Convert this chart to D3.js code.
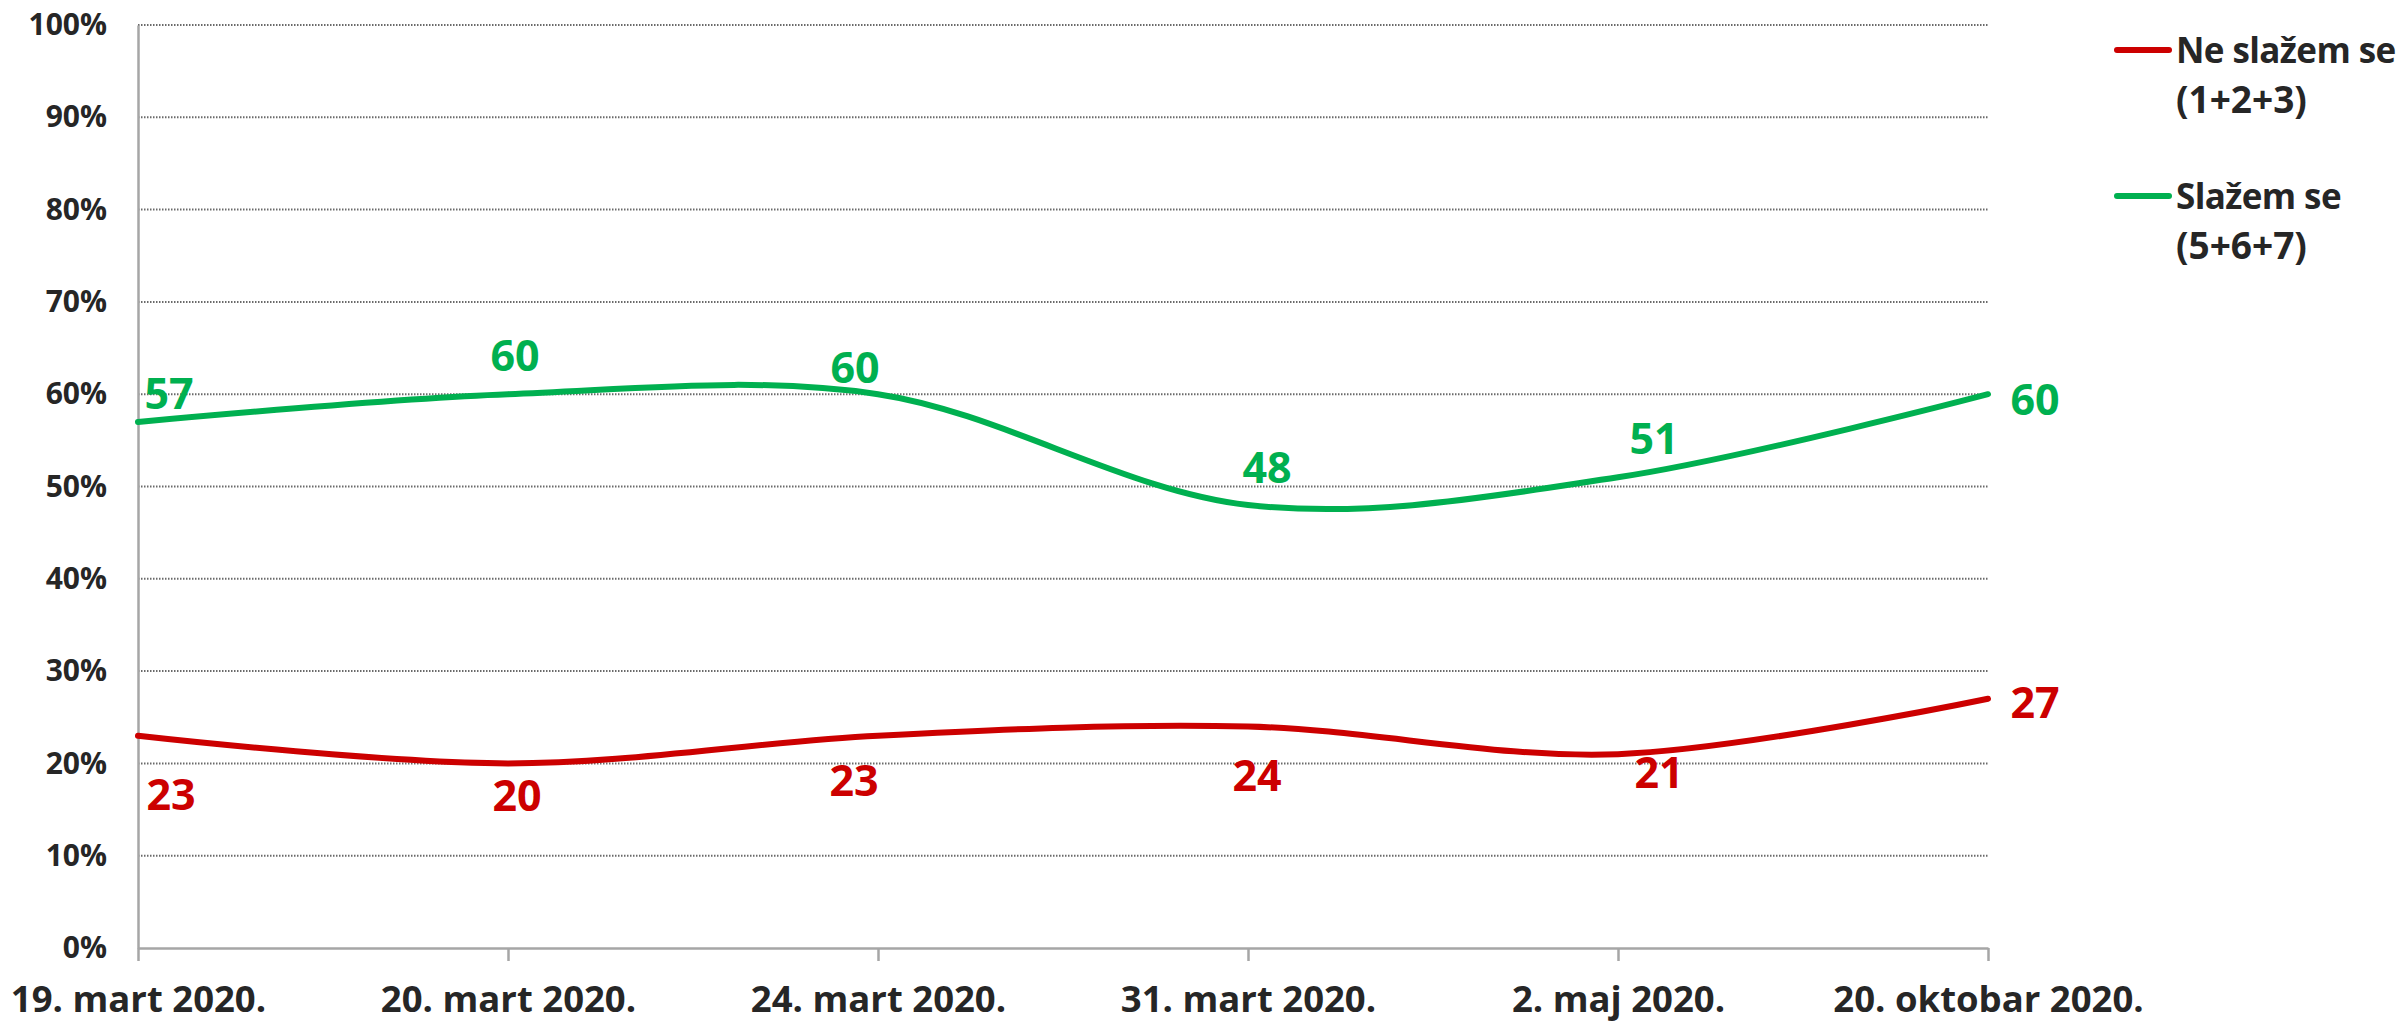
<!DOCTYPE html>
<html>
<head>
<meta charset="utf-8">
<script src="https://cdn.jsdelivr.net/npm/d3@7"></script>
<style>
  html, body { margin: 0; padding: 0; background: #fff; }
  svg { display: block; }
  text { font-family: "Open Sans", "Noto Sans", sans-serif; font-weight: 700; }
</style>
</head>
<body>
<svg id="chart" width="2405" height="1025"></svg>
<script>
// ---- data ----
const categories = ["19. mart 2020.", "20. mart 2020.", "24. mart 2020.", "31. mart 2020.", "2. maj 2020.", "20. oktobar 2020."];
const disagreeValues = [23, 20, 23, 24, 21, 27];   // Ne slažem se (1+2+3)
const agreeValues = [57, 60, 60, 48, 51, 60];      // Slažem se (5+6+7)
const yTicks = [0, 10, 20, 30, 40, 50, 60, 70, 80, 90, 100];
const seriesNames = [["Ne slažem se", "(1+2+3)"], ["Slažem se", "(5+6+7)"]];

// ---- layout (label offsets relative to the point, in px) ----
const disagreeLabelOffsets = [[33, 58], [9, 31], [-24, 44], [9, 48], [41, 17], [47, 3]];
const agreeLabelOffsets = [[31, -29], [7, -40], [-23, -28], [19, -38], [36, -40], [47, 4]];

const colors = { disagree: "#CC0000", agree: "#00B050" };
const svg = d3.select("#chart");

const x = d3.scalePoint().domain(categories).range([138, 1988]);
const y = d3.scaleLinear().domain([0, 100]).range([948, 25]);

// gridlines
svg.append("g").selectAll("line").data(yTicks.filter(d => d > 0)).join("line")
  .attr("x1", 138).attr("x2", 1988)
  .attr("y1", d => y(d)).attr("y2", d => y(d))
  .attr("stroke", "#6a6a6a").attr("stroke-width", 2)
  .attr("stroke-dasharray", "1.5,1.5");

// y axis
const yAxis = d3.axisLeft(y).tickValues(yTicks).tickSize(0).tickPadding(31).tickFormat(d => d + "%");
const gy = svg.append("g").attr("transform", "translate(138,0)").call(yAxis);
gy.select(".domain").attr("stroke", "#A6A6A6").attr("stroke-width", 2.5);
gy.selectAll("text").attr("font-size", 30).attr("fill", "#262626")
  .attr("font-family", "'Open Sans', sans-serif").attr("font-weight", 700);

// x axis
const xAxis = d3.axisBottom(x).tickSize(13).tickSizeOuter(0).tickPadding(25);
const gx = svg.append("g").attr("transform", "translate(0,948)").call(xAxis);
gx.select(".domain").attr("stroke", "#A6A6A6").attr("stroke-width", 2.5);
gx.selectAll(".tick line").attr("stroke", "#A6A6A6").attr("stroke-width", 2.5);
gx.selectAll("text").attr("font-size", 36.5).attr("fill", "#262626")
  .attr("font-family", "'Open Sans', sans-serif").attr("font-weight", 700);

// lines
const line = d3.line()
  .x((d, i) => x(categories[i]))
  .y(d => y(d))
  .curve(d3.curveCardinal.tension(0));

const series = [
  { values: disagreeValues, color: colors.disagree, offsets: disagreeLabelOffsets },
  { values: agreeValues, color: colors.agree, offsets: agreeLabelOffsets }
];

series.forEach(s => {
  svg.append("path").datum(s.values)
    .attr("d", line)
    .attr("fill", "none")
    .attr("stroke", s.color)
    .attr("stroke-width", 6)
    .attr("stroke-linecap", "round")
    .attr("stroke-linejoin", "round");
});

series.forEach(s => {
  svg.append("g").selectAll("text").data(s.values).join("text")
    .attr("x", (d, i) => x(categories[i]) + s.offsets[i][0])
    .attr("y", (d, i) => y(d) + s.offsets[i][1])
    .attr("text-anchor", "middle")
    .attr("dominant-baseline", "central")
    .attr("font-size", 43)
    .attr("fill", s.color)
    .text(d => d);
});

// legend
const legendItems = [
  { color: colors.disagree, lines: seriesNames[0], lineY: 50, baseY: 63 },
  { color: colors.agree, lines: seriesNames[1], lineY: 196, baseY: 209 }
];
const lg = svg.append("g");
legendItems.forEach(it => {
  lg.append("line")
    .attr("x1", 2117).attr("x2", 2169)
    .attr("y1", it.lineY).attr("y2", it.lineY)
    .attr("stroke", it.color).attr("stroke-width", 6).attr("stroke-linecap", "round");
  it.lines.forEach((t, j) => {
    lg.append("text")
      .attr("x", 2176).attr("y", it.baseY + j * 50)
      .attr("font-size", j === 0 ? 35 : 37)
      .attr("letter-spacing", j === 0 ? -0.6 : 0)
      .attr("fill", "#262626")
      .text(t);
  });
});
</script>
</body>
</html>
